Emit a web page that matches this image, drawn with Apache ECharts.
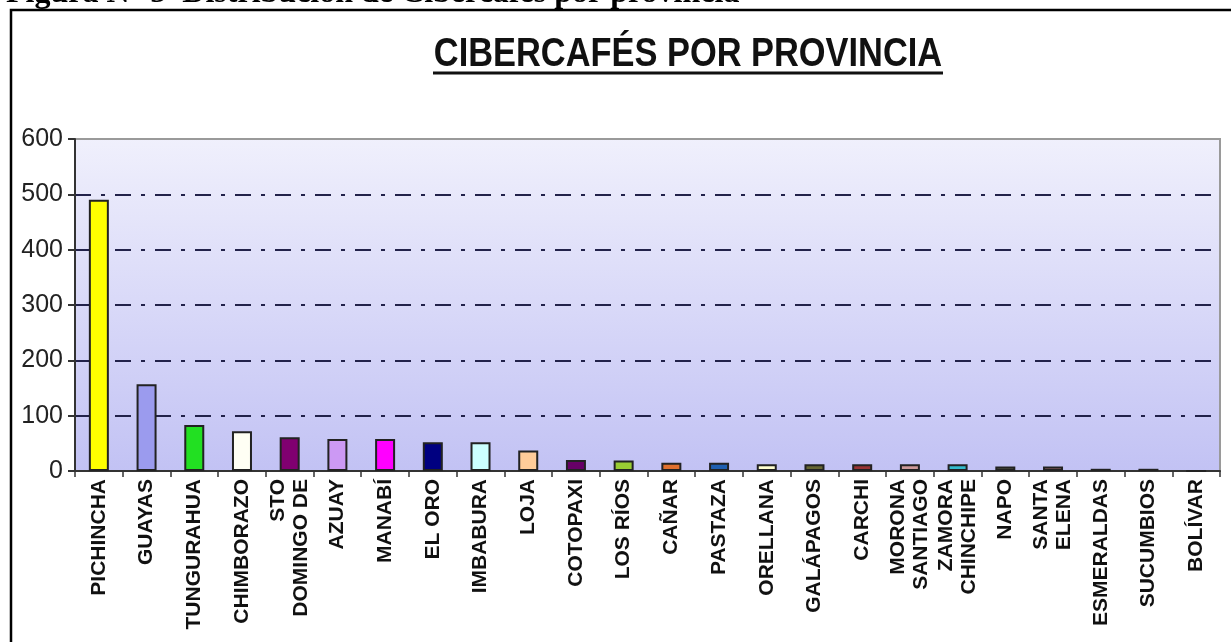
<!DOCTYPE html>
<html>
<head>
<meta charset="utf-8">
<title>Cibercafés por provincia</title>
<script src="https://cdn.jsdelivr.net/npm/echarts@6/dist/echarts.min.js"></script>
<style>
  html, body { margin: 0; padding: 0; background: #fff; }
  #chart { width: 1231px; height: 642px; }
</style>
</head>
<body>
<div id="chart"></div>
<script>
  // provincias (las de dos líneas llevan salto)
  const provincias = [
    'PICHINCHA', 'GUAYAS', 'TUNGURAHUA', 'CHIMBORAZO', 'STO\nDOMINGO DE',
    'AZUAY', 'MANABÍ', 'EL ORO', 'IMBABURA', 'LOJA', 'COTOPAXI', 'LOS RÍOS',
    'CAÑAR', 'PASTAZA', 'ORELLANA', 'GALÁPAGOS', 'CARCHI', 'MORONA\nSANTIAGO',
    'ZAMORA\nCHINCHIPE', 'NAPO', 'SANTA\nELENA', 'ESMERALDAS', 'SUCUMBIOS', 'BOLÍVAR'
  ]
  const cibercafes = [490, 157, 83, 72, 61, 58, 58, 52, 52, 37, 20, 19,
    15, 15, 12, 12, 12, 12, 12, 8, 8, 4, 4, 0]
  const colores = [
    '#ffff00', '#9b9bee', '#22e022', '#fffff4', '#800070',
    '#cc99f4', '#ff00ff', '#000080', '#ccffff', '#ffcc99', '#660066', '#99cc33',
    '#e0702e', '#1f5fb0', '#ffffd0', '#666633', '#993333', '#cc9999',
    '#33bbcc', '#555544', '#996666', '#000066', '#000066', '#000066'
  ]
  const yMin = 0
  const yMax = 600
  const yStep = 100

  const chart = echarts.init(document.getElementById('chart'))

  chart.setOption({
    backgroundColor: '#ffffff',
    animation: false,
    graphic: [
      {
        type: 'rect',
        silent: true,
        z: 0,
        shape: { x: 11, y: 10, width: 1250, height: 660 },
        style: { fill: 'none', stroke: '#000', lineWidth: 2.5 }
      },
      {
        type: 'text',
        silent: true,
        x: 6,
        y: 10,
        style: {
          text: 'Figura N° 5  Distribución de Cibercafés por provincia',
          font: 'bold 32px "Liberation Serif"',
          fill: '#000',
          textAlign: 'left',
          verticalAlign: 'bottom'
        }
      },
      {
        type: 'text',
        silent: true,
        x: 688,
        y: 35,
        scaleX: 0.86,
        style: {
          text: 'CIBERCAFÉS POR PROVINCIA',
          font: 'bold 40px "Liberation Sans"',
          fill: '#111',
          textAlign: 'center',
          verticalAlign: 'top'
        }
      },
      {
        type: 'line',
        silent: true,
        shape: { x1: 433, y1: 73, x2: 943, y2: 73 },
        style: { stroke: '#111', lineWidth: 3 }
      }
    ],
    grid: {
      left: 75,
      top: 139,
      width: 1145,
      height: 332,
      show: true,
      borderColor: '#9a9a9a',
      borderWidth: 2,
      backgroundColor: new echarts.graphic.LinearGradient(0, 0, 0, 1, [
        { offset: 0, color: '#f0f0fc' },
        { offset: 1, color: '#c2c2f4' }
      ])
    },
    xAxis: {
      type: 'category',
      data: provincias,
      axisLine: { lineStyle: { color: '#333', width: 2 } },
      axisTick: { show: true, length: 6, lineStyle: { color: '#333', width: 1.5 } },
      axisLabel: {
        interval: 0,
        rotate: 90,
        margin: 8,
        fontSize: 21,
        fontWeight: 'bold',
        fontFamily: 'Liberation Sans',
        color: '#111',
        lineHeight: 23
      }
    },
    yAxis: {
      type: 'value',
      min: yMin,
      max: yMax,
      interval: yStep,
      axisLine: { show: true, lineStyle: { color: '#333', width: 2 } },
      axisTick: { show: true, length: 7, lineStyle: { color: '#333', width: 2 } },
      axisLabel: {
        margin: 12,
        fontSize: 25,
        fontFamily: 'Liberation Sans',
        color: '#222'
      },
      splitLine: {
        show: true,
        showMinLine: false,
        showMaxLine: false,
        lineStyle: { color: '#22224a', width: 2, type: [16, 10, 4, 10] }
      }
    },
    series: [
      {
        type: 'bar',
        barWidth: 20,
        data: cibercafes.map((v, i) => ({ value: v, itemStyle: { color: colores[i] } })),
        itemStyle: { borderColor: '#222', borderWidth: 2 }
      }
    ]
  })
</script>
</body>
</html>
